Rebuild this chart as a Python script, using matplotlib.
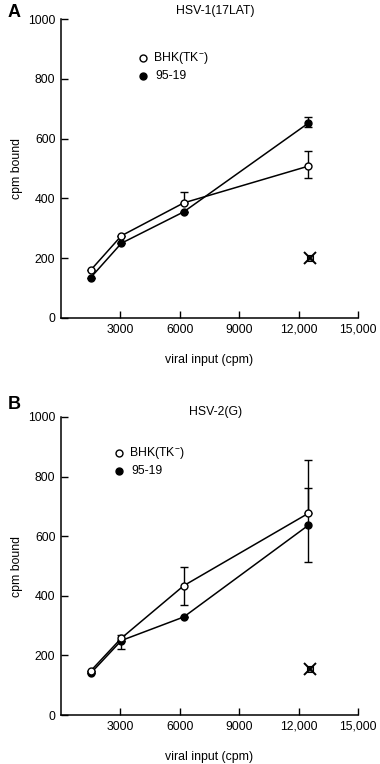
import matplotlib

matplotlib.use("Agg")
import matplotlib.pyplot as plt

plt.rcParams["font.family"] = ["Liberation Sans", "DejaVu Sans"]
plt.rcParams["mathtext.default"] = "regular"

# viral input (cpm) at each point
X_INPUT = [1500, 3050, 6200, 12500]

# Panel A: HSV-1(17LAT)
A_BHK = [160, 275, 385, 508]
A_BHK_ERR_LO = [0, 0, 0, 40]
A_BHK_ERR_HI = [0, 0, 35, 50]
A_9519 = [135, 250, 355, 652]
A_9519_ERR_LO = [0, 0, 0, 12]
A_9519_ERR_HI = [0, 0, 0, 20]
A_CTRL = 200

# Panel B: HSV-2(G)
B_BHK = [148, 258, 434, 677]
B_BHK_ERR_LO = [0, 35, 65, 0]
B_BHK_ERR_HI = [0, 10, 62, 180]
B_9519 = [140, 250, 329, 637]
B_9519_ERR_LO = [0, 0, 0, 125]
B_9519_ERR_HI = [0, 0, 0, 125]
B_CTRL = 153

CTRL_X = 12600
X_TICKS = [3000, 6000, 9000, 12000, 15000]
X_LABELS = ["3000", "6000", "9000", "12,000", "15,000"]
Y_TICKS = [0, 200, 400, 600, 800, 1000]

fig = plt.figure(figsize=(3.8, 7.64), dpi=100)


def panel(rect, letter, title, bhk, bhk_err, s9519, s9519_err, ctrl,
          leg_x, leg_y, letter_dy, title_dy):
    ax = fig.add_axes(rect)
    ax.errorbar(X_INPUT, s9519, yerr=s9519_err, color="black", lw=1.1,
                marker="o", ms=5, mfc="black", mec="black", capsize=3,
                elinewidth=1, zorder=3)
    ax.errorbar(X_INPUT, bhk, yerr=bhk_err, color="black", lw=1.1,
                marker="o", ms=5, mfc="white", mec="black", mew=1, capsize=3,
                elinewidth=1, zorder=4)
    ax.plot([CTRL_X], [ctrl], marker="s", ms=4.5, mfc="#777777", mec="black",
            mew=0.8, ls="none", zorder=5)
    ax.plot([CTRL_X], [ctrl], marker="x", ms=9, mew=1.4, color="black",
            ls="none", zorder=5)

    ax.set_xlim(0, 15000)
    ax.set_ylim(0, 1000)
    ax.set_xticks(X_TICKS)
    ax.set_xticklabels(X_LABELS)
    ax.set_yticks(Y_TICKS)
    for s in ("top", "right"):
        ax.spines[s].set_visible(False)
    for s in ("left", "bottom"):
        ax.spines[s].set_linewidth(1.1)
    ax.tick_params(direction="in", length=5, width=1, labelsize=8.8, pad=4)
    ax.set_xlabel("viral input (cpm)", fontsize=8.8, labelpad=13)
    ax.set_ylabel("cpm bound", fontsize=8.8, labelpad=4)

    ax.annotate(title, xy=(7800 / 15000, 1), xycoords="axes fraction",
                xytext=(0, title_dy), textcoords="offset pixels",
                ha="center", va="center", fontsize=8.8)
    ax.annotate(letter, xy=(0, 1), xycoords="axes fraction",
                xytext=(-53, letter_dy), textcoords="offset pixels",
                ha="left", va="center", fontsize=13, fontweight="bold")

    ax.plot([leg_x], [leg_y], marker="o", ms=5, mfc="white", mec="black",
            ls="none", clip_on=False)
    ax.text(leg_x + 500, leg_y, "BHK(TK$^{-}$)", va="center", fontsize=8.8)
    ax.plot([leg_x], [leg_y - 60], marker="o", ms=5, mfc="black", mec="black",
            ls="none", clip_on=False)
    ax.text(leg_x + 600, leg_y - 60, "95-19", va="center", fontsize=8.8)
    return ax


panel([0.1605, 0.5838, 0.7815, 0.3913], "A", "HSV-1(17LAT)",
      A_BHK, [A_BHK_ERR_LO, A_BHK_ERR_HI], A_9519, [A_9519_ERR_LO, A_9519_ERR_HI],
      A_CTRL, 4150, 870, 7, 8)
panel([0.1605, 0.0641, 0.7815, 0.3901], "B", "HSV-2(G)",
      B_BHK, [B_BHK_ERR_LO, B_BHK_ERR_HI], B_9519, [B_9519_ERR_LO, B_9519_ERR_HI],
      B_CTRL, 2950, 880, 12, 5)

fig.savefig("out.png", dpi=100)
